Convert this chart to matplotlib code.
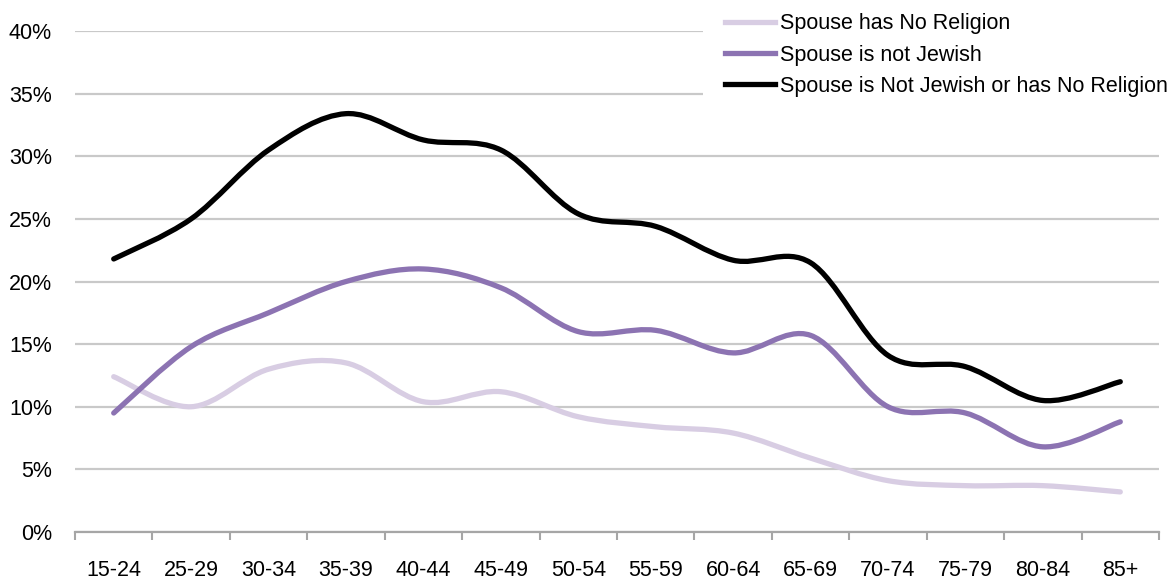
import matplotlib.pyplot as plt
import numpy as np
from matplotlib.path import Path
from matplotlib.patches import PathPatch
from matplotlib.lines import Line2D

plt.rcParams['font.family'] = ['Liberation Sans', 'DejaVu Sans']

ages = ["15-24", "25-29", "30-34", "35-39", "40-44", "45-49", "50-54",
        "55-59", "60-64", "65-69", "70-74", "75-79", "80-84", "85+"]
no_religion = [12.4, 10.0, 13.0, 13.5, 10.4, 11.2, 9.2, 8.4, 7.9, 5.9, 4.1, 3.7, 3.7, 3.2]
not_jewish = [9.5, 14.8, 17.5, 20.0, 21.0, 19.5, 16.0, 16.1, 14.3, 15.7, 10.0, 9.5, 6.8, 8.8]
either = [21.8, 25.0, 30.5, 33.4, 31.3, 30.5, 25.4, 24.4, 21.7, 21.5, 14.1, 13.2, 10.5, 12.0]

labels = ["Spouse has No Religion", "Spouse is not Jewish",
          "Spouse is Not Jewish or has No Religion"]
colors = ["#D8CDE3", "#8C73B2", "#000000"]


def smooth_path(x, y):
    # excel-style smoothed line: catmull-rom turned into cubic beziers
    pts = np.column_stack([x, y])
    verts = [pts[0]]
    codes = [Path.MOVETO]
    n = len(pts)
    for i in range(n - 1):
        p0 = pts[max(i - 1, 0)]
        p1 = pts[i]
        p2 = pts[i + 1]
        p3 = pts[min(i + 2, n - 1)]
        c1 = p1 + (p2 - p0) / 6.0
        c2 = p2 - (p3 - p1) / 6.0
        verts += [c1, c2, p2]
        codes += [Path.CURVE4] * 3
    return Path(verts, codes)


fig = plt.figure(figsize=(11.71, 5.79), dpi=100)
ax = fig.add_axes([75 / 1171, 47 / 579, 1084 / 1171, 501 / 579])

x = np.arange(len(ages))
for vals, c in zip([no_religion, not_jewish, either], colors):
    patch = PathPatch(smooth_path(x, vals), facecolor="none", edgecolor=c,
                      lw=3.8, capstyle="round", joinstyle="round", zorder=3)
    ax.add_patch(patch)

ax.set_xlim(-0.5, len(ages) - 0.5)
ax.set_ylim(0, 40)
ax.set_yticks(range(0, 41, 5))
ax.set_yticklabels([f"{v}%" for v in range(0, 41, 5)])
ax.set_xticks(np.arange(-0.5, len(ages), 1.0))
ax.set_xticklabels([])
ax.set_xticks(x, minor=True)
ax.set_xticklabels(ages, minor=True)
ax.tick_params(axis="x", which="minor", length=0, pad=20, labelsize=15.5)
ax.tick_params(axis="x", which="major", length=6, width=1.5, color="#A6A6A6", direction="out")
ax.tick_params(axis="y", length=0, pad=16.5, labelsize=15.5)
ax.grid(axis="y", color="#C9C9C9", lw=1.6)
ax.set_axisbelow(True)
for s in ["top", "right", "left"]:
    ax.spines[s].set_visible(False)
ax.spines["bottom"].set_color("#A6A6A6")
ax.spines["bottom"].set_linewidth(1.6)

handles = [Line2D([], [], color=c, lw=3.8) for c in colors]
leg = fig.legend(handles, labels, loc="upper left", bbox_to_anchor=(703 / 1171, 1.014),
                 fontsize=15.5, frameon=True, facecolor="white", edgecolor="none",
                 framealpha=1, fancybox=False, borderpad=1.0, borderaxespad=0,
                 handlelength=2.34, handletextpad=0.23, labelspacing=0.47)

fig.savefig("out.png", dpi=100)
